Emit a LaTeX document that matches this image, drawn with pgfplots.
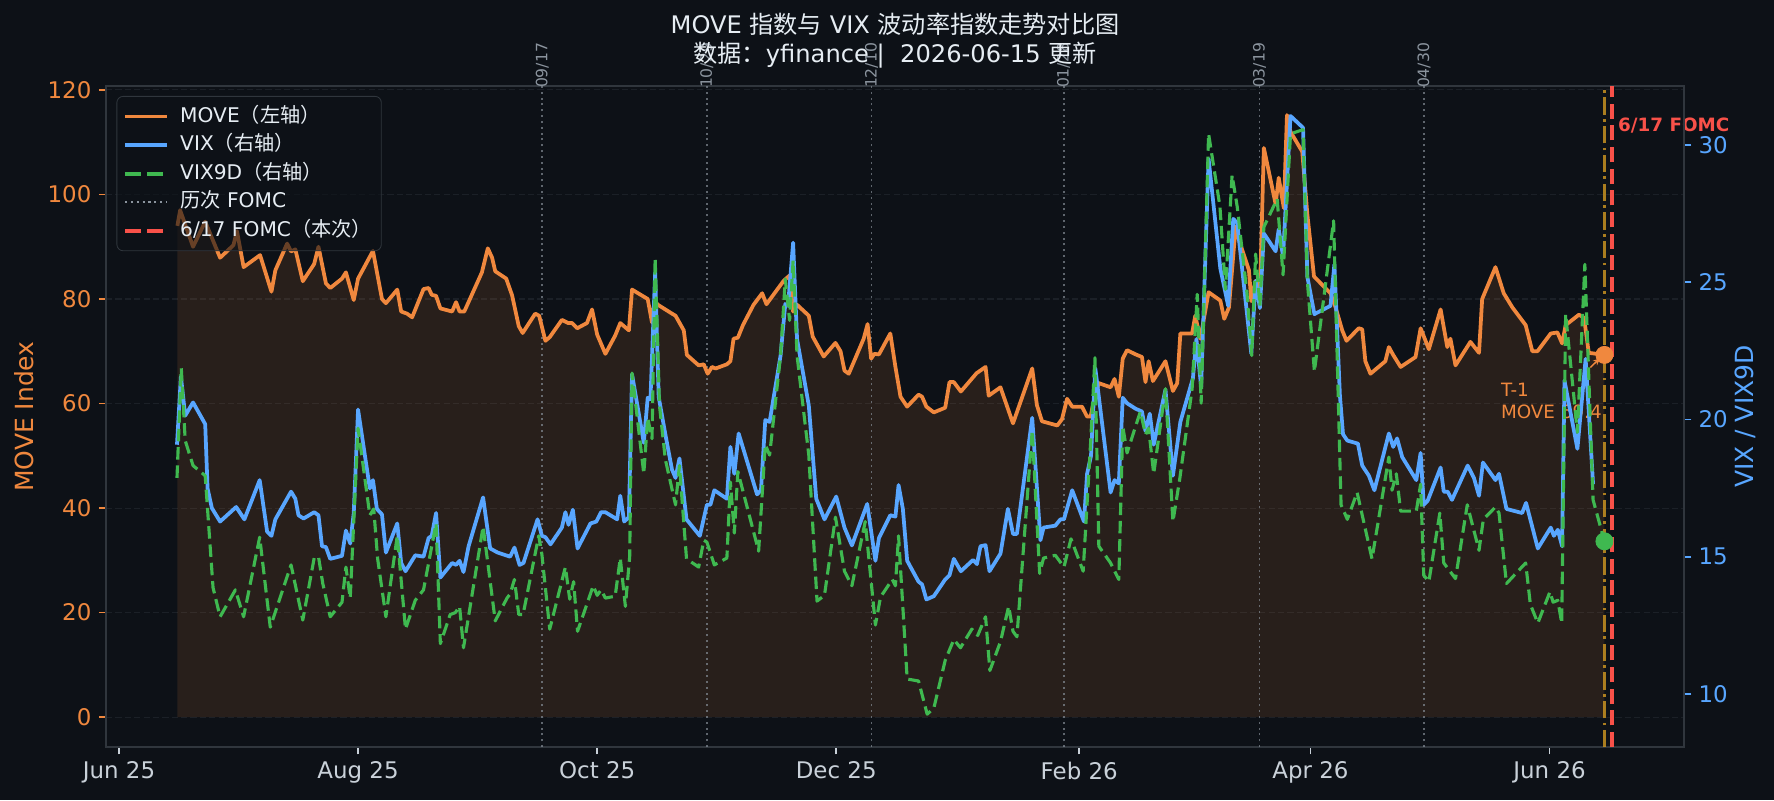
\documentclass[border=0pt]{standalone}
\usepackage{fontspec}
\setmainfont{DejaVu Sans}
\newfontfamily\cjk{Noto Sans CJK SC}
\usepackage{pgfplots}
\usepackage{pgfplotstable}
\pgfplotsset{compat=1.18}
\usetikzlibrary{arrows.meta}
\definecolor{bgc}{HTML}{0D1117}
\definecolor{spinec}{HTML}{30363D}
\definecolor{gridc}{HTML}{1B2027}
\definecolor{txtc}{HTML}{E6EDF3}
\definecolor{tickc}{HTML}{C9D1D9}
\definecolor{orac}{HTML}{F0883E}
\definecolor{bluc}{HTML}{58A6FF}
\definecolor{grec}{HTML}{3FB950}
\definecolor{fredc}{HTML}{F85149}
\definecolor{goldc}{HTML}{D29922}
\definecolor{gryc}{HTML}{8B949E}

\pgfplotstableread{
d v
14.9 94.0
15.6 97.0
18.9 90.0
22.0 94.8
25.8 87.9
29.2 90.3
30.1 93.0
31.8 86.1
36.0 88.4
38.9 81.4
39.9 85.5
42.9 90.6
43.9 89.1
45.0 89.5
46.9 83.4
49.8 86.7
50.9 90.0
52.8 83.0
53.9 82.1
56.9 83.9
57.9 85.1
59.9 79.8
61.0 83.9
64.8 89.2
67.1 80.0
68.1 79.2
71.0 81.8
72.0 77.6
73.5 77.2
74.8 76.5
77.7 81.9
79.0 82.1
79.8 80.8
80.9 80.6
82.0 78.2
85.0 77.6
86.0 79.4
86.9 77.6
88.1 77.6
92.6 85.1
94.1 89.7
95.2 87.9
96.0 85.3
98.8 83.9
100.3 80.7
102.0 74.8
103.0 73.5
106.2 77.2
107.2 76.8
108.8 72.0
109.9 72.7
113.0 76.0
114.6 75.4
115.6 75.4
116.9 74.4
119.4 75.4
120.7 78.0
122.0 73.2
124.1 69.5
126.6 73.0
127.9 75.4
130.1 74.0
130.9 81.8
134.9 80.0
136.0 75.5
136.6 79.5
137.7 78.8
141.1 77.2
142.0 76.8
144.1 74.0
144.9 69.3
147.9 67.3
149.2 67.5
150.2 65.7
151.3 67.0
152.2 66.7
155.1 67.5
156.0 68.1
156.8 72.4
157.9 72.6
159.2 75.0
161.9 78.9
164.1 81.1
165.2 79.0
169.6 83.5
171.1 84.5
172.0 77.6
173.0 78.9
176.0 76.8
177.0 72.8
179.8 69.0
182.8 71.6
184.1 70.0
185.1 66.3
186.2 65.7
190.0 72.4
191.0 75.2
191.9 68.6
192.7 69.5
193.9 69.4
196.8 73.4
198.1 67.0
199.4 61.3
201.1 59.4
204.0 61.7
204.9 61.3
206.0 59.4
207.9 58.3
210.8 59.2
211.9 64.1
213.0 64.1
214.8 62.3
218.8 65.8
221.1 67.0
221.9 61.5
224.9 63.1
228.1 56.2
233.0 66.7
234.2 59.7
235.5 56.6
239.4 55.8
240.6 57.0
241.9 60.9
243.2 59.4
245.7 59.4
247.0 57.5
247.9 57.5
248.9 61.3
250.0 63.9
253.0 63.1
254.0 64.7
255.1 61.3
256.1 68.6
257.2 70.2
259.4 69.4
261.0 68.9
261.9 64.1
262.7 68.1
263.8 64.3
267.0 68.1
268.9 62.4
270.0 63.9
270.8 73.4
273.8 73.4
274.6 76.8
275.9 72.4
278.0 81.3
281.0 79.7
282.0 76.2
283.2 78.4
284.9 93.8
285.7 91.4
288.3 85.5
288.9 79.6
290.0 83.5
291.1 81.1
292.1 108.9
295.1 98.2
295.9 103.2
297.2 97.4
298.0 115.2
298.9 112.0
301.9 108.2
303.2 96.2
304.9 84.3
309.1 81.1
310.4 78.4
312.1 74.0
313.2 72.0
316.3 74.4
317.2 74.2
318.0 68.1
319.3 65.7
323.1 68.1
324.0 70.8
325.1 69.3
327.0 67.0
330.8 68.9
332.1 74.4
334.2 70.4
337.2 78.0
338.9 70.8
339.7 72.4
341.0 67.3
344.8 71.8
347.0 69.7
347.8 80.0
351.2 86.1
353.3 81.1
355.5 78.4
358.9 75.0
360.6 70.0
361.9 70.0
365.3 73.4
367.0 73.6
368.2 71.5
369.1 75.0
372.5 77.0
373.8 76.4
375.0 69.7
379.0 69.3
}\movetab

\pgfplotstableread{
d v
14.8 19.08
15.8 21.57
16.9 20.14
18.9 20.62
22.0 19.83
22.6 17.49
23.7 16.77
25.8 16.28
29.9 16.81
32.0 16.36
35.9 17.79
37.8 15.91
38.9 15.76
39.9 16.36
43.9 17.37
45.0 17.11
45.8 16.51
47.1 16.39
49.8 16.62
50.9 16.51
51.8 15.38
52.8 15.35
53.9 14.92
56.9 15.03
57.9 15.95
59.0 15.48
59.9 16.59
61.0 20.36
64.0 17.49
64.8 17.79
65.8 16.74
67.1 16.54
68.1 15.15
71.0 16.21
72.0 14.77
73.1 14.47
75.6 15.05
77.7 15.00
79.0 15.68
79.8 15.76
80.9 16.59
82.0 14.24
85.0 14.77
86.0 14.70
86.9 14.85
87.9 14.44
89.2 15.38
92.9 17.16
94.7 15.30
96.6 15.15
99.8 15.00
100.9 15.33
102.2 14.70
103.2 14.77
106.8 16.36
107.9 15.76
108.8 15.71
110.1 15.45
113.0 16.06
113.9 16.62
114.7 16.16
115.8 16.71
117.0 15.30
120.3 16.21
121.8 16.28
123.0 16.62
124.1 16.62
127.1 16.36
127.9 17.22
128.9 16.28
130.1 16.44
130.9 21.65
133.9 19.15
134.9 20.79
135.6 20.74
136.8 25.35
137.7 20.82
139.4 19.46
141.1 18.17
142.0 17.87
143.0 18.58
144.8 16.36
148.2 15.76
150.0 16.89
150.9 16.89
151.9 17.42
155.1 17.11
156.0 19.00
157.0 18.02
158.1 19.49
162.8 17.27
163.8 17.42
164.9 19.98
166.0 19.91
168.8 22.33
170.0 24.21
170.7 24.14
172.0 26.44
173.0 22.93
176.0 20.51
177.9 17.11
180.0 16.36
183.0 17.19
185.1 16.06
187.0 15.41
190.9 16.92
193.0 14.85
193.9 15.68
196.8 16.51
198.1 16.46
198.9 17.61
200.0 16.74
201.1 14.85
204.0 14.09
204.9 13.99
206.0 13.44
207.9 13.56
210.8 14.17
211.9 14.32
213.0 14.92
214.8 14.47
217.9 14.88
218.9 14.73
219.8 15.38
221.1 15.42
222.1 14.47
224.9 15.11
226.8 16.74
228.1 15.83
229.1 15.83
233.0 20.06
235.1 15.60
235.9 16.06
238.9 16.13
240.2 16.36
241.1 16.36
243.2 17.42
246.2 16.28
247.0 18.02
248.0 18.67
249.1 21.87
253.0 17.34
254.0 17.79
255.1 17.67
256.1 20.79
257.2 20.59
259.4 20.39
261.0 20.29
261.9 19.58
263.0 20.21
264.0 19.08
267.0 21.09
268.9 17.95
270.8 19.91
274.0 21.50
274.9 22.93
276.1 21.19
278.0 29.50
281.0 25.50
283.0 24.14
284.3 27.31
285.3 27.16
288.9 22.40
290.0 25.05
291.1 24.06
292.1 26.78
295.1 26.13
295.9 26.93
297.0 25.95
298.9 31.06
302.1 30.63
303.2 25.20
305.0 23.84
309.1 24.14
310.1 25.65
311.5 20.89
312.3 19.46
313.4 19.23
316.1 19.12
317.2 18.32
318.9 17.95
320.3 17.42
324.0 19.49
325.1 19.00
326.1 19.31
327.4 18.63
331.0 17.79
332.1 18.78
332.9 16.89
333.9 17.04
337.2 18.25
338.0 17.37
339.0 17.37
340.1 17.07
344.1 18.32
345.7 17.87
347.0 17.22
348.0 18.43
351.2 17.79
352.1 18.02
354.0 16.74
358.0 16.59
359.0 16.96
362.0 15.30
365.3 16.06
366.1 15.76
367.1 15.98
368.2 15.38
368.8 21.42
372.1 18.93
374.2 22.21
376.1 17.64
}\vixtab

\pgfplotstableread{
d v
14.8 17.87
15.9 21.87
16.9 19.23
18.9 18.32
22.0 17.95
24.0 13.87
25.8 12.81
29.7 13.79
31.8 12.81
35.9 15.71
38.6 12.43
43.9 14.70
46.9 12.69
49.8 14.95
50.9 15.00
52.0 14.02
53.9 12.81
56.9 13.34
57.9 14.62
59.0 13.49
61.0 19.68
64.0 16.51
65.0 16.74
66.0 14.92
68.1 12.81
71.0 15.76
73.1 12.36
75.6 13.41
77.7 13.79
79.0 14.77
79.8 15.38
80.9 16.21
82.0 11.83
84.5 12.89
85.8 12.96
86.9 13.19
87.9 11.68
92.9 16.10
96.0 12.66
99.0 13.49
99.8 13.64
100.9 14.17
102.0 12.89
103.1 12.89
107.1 15.76
107.9 15.08
109.9 12.36
113.9 14.62
115.0 13.45
116.0 14.09
117.0 12.28
121.0 13.94
122.0 13.59
123.0 13.79
124.1 13.49
126.6 13.56
127.9 14.95
129.2 13.19
130.3 15.00
130.9 21.69
133.9 18.02
134.9 20.06
136.0 19.30
136.8 25.88
137.9 20.51
139.4 18.54
142.0 16.89
143.0 18.32
144.8 14.92
147.9 14.62
149.2 15.60
150.0 15.53
151.9 14.70
155.1 14.95
156.0 17.72
157.0 15.86
157.9 18.10
163.2 15.20
164.9 19.08
166.0 18.70
168.8 22.33
170.0 25.12
171.1 23.61
172.0 25.80
173.0 22.33
176.0 18.70
178.1 13.38
180.0 13.59
182.8 16.44
185.1 14.47
187.0 13.94
190.4 16.28
193.0 12.51
194.3 13.53
197.3 14.17
198.1 13.94
198.9 15.76
201.1 10.54
204.0 10.47
206.2 9.26
207.9 9.48
210.8 11.22
213.0 11.98
214.7 11.68
217.6 12.36
219.1 12.13
221.1 12.81
222.2 10.85
224.9 11.90
227.0 13.19
228.1 12.28
229.1 12.08
233.0 19.60
234.9 14.39
235.9 14.95
238.9 15.05
241.1 14.62
242.9 15.65
246.0 14.47
247.9 19.15
249.0 22.25
250.0 15.38
253.0 14.77
255.1 14.17
256.1 19.76
257.2 18.78
259.4 19.76
260.6 20.29
261.9 19.46
262.7 19.68
264.0 18.02
267.0 21.12
268.9 16.28
270.6 17.79
273.8 21.12
275.1 24.56
276.1 20.59
278.0 30.41
280.9 27.76
282.3 24.74
284.0 28.90
285.3 27.76
287.8 24.59
289.0 22.33
290.0 26.03
291.1 24.14
292.1 27.01
295.5 28.04
297.0 25.27
298.9 30.41
302.1 30.56
303.2 25.05
305.0 21.75
309.9 27.24
311.8 16.89
313.4 16.36
315.9 17.34
319.7 14.92
324.0 18.63
324.8 17.42
325.9 18.02
327.0 16.66
331.0 16.66
332.1 17.64
332.9 14.32
334.2 14.09
337.0 16.59
338.0 14.77
341.0 14.20
344.0 16.89
347.0 15.23
348.1 16.36
351.2 16.81
352.1 16.59
354.0 14.02
358.9 14.77
360.1 13.26
362.0 12.58
365.1 13.72
365.9 13.34
367.1 13.41
368.1 12.58
369.1 23.84
372.1 19.53
374.0 25.65
376.1 17.07
379.0 15.56
}\vixninetab

\pgfplotsset{
  base/.style={
    at={(0pt,0pt)}, anchor=south west, scale only axis,
    width=757.4pt, height=317.3pt,
    xmin=-3.3, xmax=399.3,
    clip mode=individual,
    tick align=outside, major tick length=3.5pt,
    tick label style={font=\fontsize{11}{13}\selectfont},
    /pgf/number format/assume math mode=true,
    axis line style={spinec, line width=0.8pt},
  }
}

\begin{document}
\begin{tikzpicture}
\fill[bgc] (-50.9pt,-25.4pt) rectangle (800.6pt,358.6pt);
\path[use as bounding box] (-50.9pt,-25.4pt) rectangle (800.6pt,358.6pt);

\begin{axis}[base,
  ymin=-5.75, ymax=120.75,
  tick pos=left,
  xtick={0,61,122,183,245,304,365},
  xticklabels={Jun 25,Aug 25,Oct 25,Dec 25,Feb 26,Apr 26,Jun 26},
  ytick={0,20,40,60,80,100,120},
  xticklabel style={text=tickc},
  yticklabel style={text=orac},
  tick style={line width=0.8pt},
  xtick style={draw=tickc},
  ytick style={draw=orac},
  ymajorgrids,
  grid style={gridc, line width=0.5pt, dash pattern=on 3pt off 1.5pt},
  ylabel={MOVE Index},
  ylabel style={text=orac, font=\fontsize{12}{14}\selectfont, at={(axis description cs:-0.052,0.5)}, anchor=center},
]
\addplot[draw=none, fill=orac, fill opacity=0.12, forget plot] table[x=d,y=v] {\movetab} \closedcycle;

\foreach \dd in {108,150,192,241,291,333}{
  \edef\temp{\noexpand\draw[gryc, opacity=0.65, line width=0.9pt, dash pattern=on 1pt off 1.8pt] (axis cs:\dd,-5.75) -- (axis cs:\dd,120.75);}
  \temp
}
\node[rotate=90, anchor=west, inner sep=0pt, text=gryc, font=\fontsize{7.5}{9}\selectfont] at (axis cs:108,120.3) {09/17};
\node[rotate=90, anchor=west, inner sep=0pt, text=gryc, font=\fontsize{7.5}{9}\selectfont] at (axis cs:150,120.3) {10/29};
\node[rotate=90, anchor=west, inner sep=0pt, text=gryc, font=\fontsize{7.5}{9}\selectfont] at (axis cs:192,120.3) {12/10};
\node[rotate=90, anchor=west, inner sep=0pt, text=gryc, font=\fontsize{7.5}{9}\selectfont] at (axis cs:241,120.3) {01/28};
\node[rotate=90, anchor=west, inner sep=0pt, text=gryc, font=\fontsize{7.5}{9}\selectfont] at (axis cs:291,120.3) {03/19};
\node[rotate=90, anchor=west, inner sep=0pt, text=gryc, font=\fontsize{7.5}{9}\selectfont] at (axis cs:333,120.3) {04/30};

\node[anchor=base west, inner sep=0pt, text=orac, font=\fontsize{8.8}{10}\selectfont] at (axis cs:352.5,61.4) {T-1};
\node[anchor=base west, inner sep=0pt, text=orac, font=\fontsize{8.8}{10}\selectfont] at (axis cs:352.5,57.1) {MOVE 69.4};

\addplot[orac, line width=1.8pt, line join=round, forget plot] table[x=d,y=v] {\movetab};

\draw[goldc, opacity=0.8, line width=1.3pt, dash pattern=on 8.3pt off 2.1pt on 1.3pt off 2.1pt] (axis cs:379,-5.75) -- (axis cs:379,120.75);
\draw[fredc, line width=1.9pt, dash pattern=on 7.2pt off 3.2pt] (axis cs:381,-5.75) -- (axis cs:381,120.75);
\node[anchor=west, inner sep=0pt, text=fredc, font=\bfseries\fontsize{8.8}{10}\selectfont] at (axis cs:382.4,113.2) {6/17 FOMC};
\draw[orac, line width=0.7pt, -{Stealth[length=3.5pt,width=3pt]}] (axis cs:375.4,66.9) -- (axis cs:377.9,68.7);
\addplot[only marks, mark=*, mark size=4.1pt, orac, forget plot] coordinates {(379,69.3)};
\end{axis}

\begin{axis}[base,
  ymin=8.06, ymax=32.15,
  axis x line=none, axis y line*=right,
  ytick={10,15,20,25,30},
  yticklabel style={text=bluc},
  tick style={draw=bluc, line width=0.8pt},
  ylabel={VIX / VIX9D},
  ylabel style={text=bluc, font=\fontsize{12}{14}\selectfont, at={(axis description cs:1.0392,0.5)}, anchor=center},
  legend image code/.code={\draw[#1] (0pt,0pt) -- (20pt,0pt);},
  legend cell align=left,
  legend style={at={(axis description cs:0.0066,0.985)}, anchor=north west,
    draw=spinec, fill=bgc, fill opacity=0.6, draw opacity=1, text opacity=1,
    text=txtc, font=\fontsize{9.7}{11.5}\selectfont, rounded corners=3pt,
    inner xsep=3pt, inner ysep=3.5pt, row sep=1.4pt,
    nodes={text height=7.3pt, text depth=2pt, inner sep=1.5pt},
    /tikz/every odd column/.append style={column sep=4pt}},
]
\addplot[bluc, line width=1.8pt, line join=round, forget plot] table[x=d,y=v] {\vixtab};
\addplot[grec, line width=1.5pt, line join=round, dash pattern=on 6pt off 2.8pt, forget plot] table[x=d,y=v] {\vixninetab};
\addplot[only marks, mark=*, mark size=4.1pt, grec, forget plot] coordinates {(379,15.56)};

\addlegendimage{orac, line width=1.9pt}
\addlegendentry{MOVE{\cjk（左轴）}}
\addlegendimage{bluc, line width=1.9pt}
\addlegendentry{VIX{\cjk（右轴）}}
\addlegendimage{grec, line width=1.9pt, dash pattern=on 7.4pt off 3.2pt}
\addlegendentry{VIX9D{\cjk（右轴）}}
\addlegendimage{gryc, line width=1pt, dash pattern=on 1pt off 1.8pt}
\addlegendentry{{\cjk 历次} FOMC}
\addlegendimage{fredc, line width=1.9pt, dash pattern=on 7.4pt off 3.2pt}
\addlegendentry{6/17 FOMC{\cjk（本次）}}
\end{axis}

\node[anchor=base, inner sep=0pt, text=txtc, font=\fontsize{11.6}{14}\selectfont] at (378.7pt,342.6pt) {MOVE {\cjk 指数与} VIX {\cjk 波动率指数走势对比图}};
\node[anchor=base, inner sep=0pt, text=txtc, font=\fontsize{11.6}{14}\selectfont] at (378.7pt,328.5pt) {{\cjk 数据：}yfinance |\ \ 2026-06-15 {\cjk 更新}};
\end{tikzpicture}
\end{document}
